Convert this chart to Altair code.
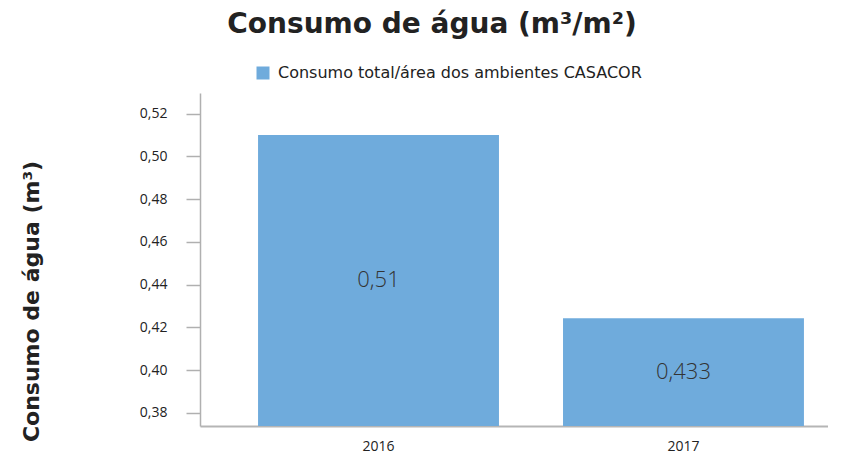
import altair as alt
import pandas as pd

years = ["2016", "2017"]
values = [0.51, 0.4242]
value_labels = ["0,51", "0,433"]
series_name = "Consumo total/área dos ambientes CASACOR"
y_ticks = [0.38, 0.40, 0.42, 0.44, 0.46, 0.48, 0.50, 0.52]
y_domain = [0.3738, 0.5296]
bar_color = "#6FABDC"
font = "Open Sans"
bold_font = "DejaVu Sans"

df = pd.DataFrame({"ano": years, "valor": values, "rotulo": value_labels,
                   "serie": [series_name] * len(years)})

x_enc = alt.X("ano:N", title=None,
              scale=alt.Scale(paddingInner=0.21, paddingOuter=0.1346, align=0.707),
              axis=alt.Axis(labelAngle=0, labelFontSize=14, labelColor="#222", labelFont=font,
                            ticks=False, labelPadding=13, domainColor="#b5b5b5",
                            domainWidth=2))

bars = alt.Chart(df).mark_bar().encode(
    x=x_enc,
    y=alt.Y("valor:Q", title="Consumo de água (m³)",
            scale=alt.Scale(domain=y_domain, nice=False, zero=False),
            axis=alt.Axis(values=y_ticks, grid=False,
                          labelExpr="replace(format(datum.value, '.2f'), '.', ',')",
                          labelFontSize=14, labelColor="#222", labelFont=font,
                          tickSize=14, tickColor="#b0b0b0", tickWidth=1.5,
                          labelPadding=19, domainColor="#b0b0b0", domainWidth=1.5,
                          titleFontSize=22, titleFontWeight="bold", titleColor="#222",
                          titleFont=bold_font, titleAngle=270, titleX=-162, titleY=208,
                          titleBaseline="alphabetic", titleAlign="center")),
    y2=alt.datum(y_domain[0]),
    color=alt.Color("serie:N", title=None,
                    scale=alt.Scale(range=[bar_color]),
                    legend=alt.Legend(orient="none", legendX=55, legendY=-28,
                                      symbolType="square", symbolSize=169,
                                      symbolStrokeWidth=0, labelFontSize=16,
                                      labelLimit=0, labelOffset=7,
                                      labelFont="DejaVu Sans", labelColor="#222")),
)

text = alt.Chart(df).transform_calculate(
    meio=f"(datum.valor + {y_domain[0]}) / 2"
).mark_text(fontSize=22, font=font, fontWeight=300, color="#333",
            baseline="middle", align="center").encode(
    x=alt.X("ano:N"),
    y=alt.Y("meio:Q"),
    text="rotulo:N",
)

chart = alt.layer(bars, text).properties(
    width=628, height=333,
    title=alt.TitleParams("Consumo de água (m³/m²)", fontSize=28, fontWeight="bold",
                          font=bold_font, color="#222", anchor="middle", dx=-82,
                          offset=4, baseline="alphabetic"),
    autosize=alt.AutoSizeParams(type="none"),
    padding={"left": 192, "top": 85, "right": 0, "bottom": 27},
).configure_view(stroke=None)

chart.save("out.html", embed_options={"renderer": "svg", "actions": False})
